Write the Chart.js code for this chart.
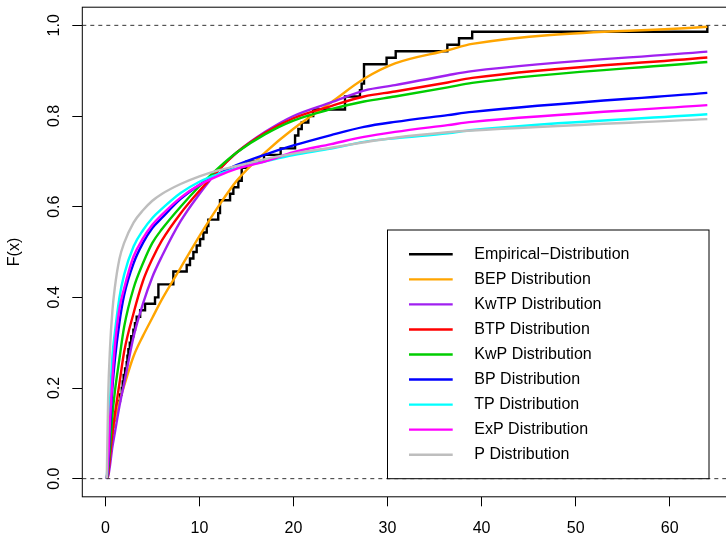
<!DOCTYPE html>
<html>
<head>
<meta charset="utf-8">
<script src="https://cdn.jsdelivr.net/npm/chart.js@4.4.1/dist/chart.umd.min.js"></script>
<style>
  html, body { margin: 0; padding: 0; background: #fff; overflow: hidden; }
  #wrap { width: 740px; height: 536px; }
</style>
</head>
<body>
<div id="wrap"><canvas id="cdf" width="740" height="536"></canvas></div>
<script>
'use strict';

// empirical steps: jump locations and cumulative count after each jump (n = 70)
const N_OBS = 70;
const ecdfX = [0.15, 0.2, 0.28, 0.35, 0.45, 0.55, 0.65, 0.75, 0.85, 1.03, 1.2, 1.39, 1.56, 1.75, 1.85, 1.95,
  2.1, 2.27, 2.35, 2.45, 2.6, 2.75, 2.98, 3.15, 3.33, 3.7, 4.22, 5.28, 5.64, 7.23, 8.65, 9.0, 9.36, 9.71,
  10.07, 10.42, 10.78, 10.95, 12.0, 12.19, 13.26, 13.61, 14.14, 14.5, 15.03, 16.87, 18.64, 20.17, 20.52,
  20.88, 21.58, 22.1, 25.48, 27.07, 27.25, 27.5, 29.9, 30.87, 36.36, 37.6, 39.0, 64.0];
const ecdfCount = [1, 2, 3, 4, 5, 6, 7, 8, 9, 10, 11, 12, 13, 14, 15, 16,
  17, 18, 19, 20, 21, 22, 23, 24, 25, 26, 27, 28, 30, 32, 33, 34, 35, 36,
  37, 38, 39, 40, 41, 43, 44, 45, 46, 48, 49, 50, 51, 53, 54,
  55, 56, 57, 59, 60, 61, 64, 65, 66, 67, 68, 69, 70];

// fitted cdf curves, read at these x positions
const curveX = [0.15, 0.3, 0.5, 0.75, 1, 1.5, 2, 3, 4, 5, 6, 8, 10, 12, 14, 17, 20, 24, 27.5, 30.8, 36.4, 39, 64];
const bepY  = [0, 0.03, 0.07, 0.1, 0.13, 0.17, 0.205, 0.27, 0.315, 0.355, 0.395, 0.465, 0.535, 0.6, 0.658, 0.72, 0.772, 0.83, 0.882, 0.916, 0.945, 0.959, 0.997];
const kwtpY = [0, 0.005, 0.03, 0.07, 0.1, 0.16, 0.21, 0.313, 0.386, 0.445, 0.49, 0.568, 0.628, 0.68, 0.72, 0.765, 0.8, 0.83, 0.856, 0.868, 0.89, 0.899, 0.942];
const btpY  = [0, 0.01, 0.05, 0.1, 0.14, 0.21, 0.28, 0.365, 0.436, 0.485, 0.525, 0.585, 0.635, 0.68, 0.72, 0.763, 0.795, 0.822, 0.843, 0.854, 0.874, 0.884, 0.929];
const kwpY  = [0, 0.02, 0.07, 0.14, 0.19, 0.265, 0.335, 0.42, 0.475, 0.52, 0.55, 0.6, 0.645, 0.685, 0.72, 0.76, 0.79, 0.815, 0.832, 0.843, 0.863, 0.873, 0.919];
const bpY   = [0, 0.03, 0.11, 0.2, 0.26, 0.345, 0.405, 0.475, 0.52, 0.553, 0.575, 0.617, 0.648, 0.672, 0.692, 0.715, 0.735, 0.758, 0.776, 0.787, 0.802, 0.809, 0.851];
const tpY   = [0, 0.06, 0.17, 0.27, 0.32, 0.4, 0.45, 0.512, 0.548, 0.575, 0.595, 0.63, 0.655, 0.672, 0.685, 0.7, 0.714, 0.728, 0.743, 0.751, 0.762, 0.769, 0.804];
const expY  = [0, 0.04, 0.13, 0.22, 0.29, 0.375, 0.42, 0.49, 0.53, 0.56, 0.582, 0.62, 0.648, 0.668, 0.684, 0.7, 0.72, 0.738, 0.754, 0.765, 0.78, 0.787, 0.824];
const pY    = [0, 0.18, 0.29, 0.37, 0.42, 0.485, 0.52, 0.565, 0.592, 0.613, 0.628, 0.65, 0.667, 0.68, 0.69, 0.705, 0.717, 0.73, 0.742, 0.752, 0.764, 0.768, 0.793];

const seriesNames = ['Empirical\u2212Distribution', 'BEP Distribution', 'KwTP Distribution', 'BTP Distribution',
  'KwP Distribution', 'BP Distribution', 'TP Distribution', 'ExP Distribution', 'P Distribution'];
const seriesColors = ['#000000', '#FFA500', '#A020F0', '#FF0000', '#00CD00', '#0000FF', '#00FFFF', '#FF00FF', '#BEBEBE'];

const xTickVals = [0, 10, 20, 30, 40, 50, 60];
const yTickVals = [0, 0.2, 0.4, 0.6, 0.8, 1.0];
const refLevels = [0, 1];
const X_MIN = -2.45, X_MAX = 66.56;

const FONT = '"Liberation Sans", Arial, Helvetica, sans-serif';
const LW = 2.4;

function pts(xs, ys) {
  return xs.map((x, i) => ({ x: x, y: ys[i] }));
}

const curves = [bepY, kwtpY, btpY, kwpY, bpY, tpY, expY, pY];

const datasets = [];
datasets.push({
  label: seriesNames[0],
  data: ecdfX.map((x, i) => ({ x: x, y: ecdfCount[i] / N_OBS })),
  borderColor: seriesColors[0],
  borderWidth: LW,
  stepped: true,
  pointRadius: 0,
  order: 20,
  inLegend: true
});
curves.forEach((ys, i) => {
  datasets.push({
    label: seriesNames[i + 1],
    data: pts(curveX, ys),
    borderColor: seriesColors[i + 1],
    borderWidth: LW,
    cubicInterpolationMode: 'monotone',
    pointRadius: 0,
    order: 19 - i,
    inLegend: true
  });
});
refLevels.forEach((lv) => {
  datasets.push({
    label: 'ref' + lv,
    data: [{ x: X_MIN, y: lv }, { x: X_MAX, y: lv }],
    borderColor: '#333',
    borderWidth: 1,
    borderDash: [4, 4],
    pointRadius: 0,
    order: 1,
    inLegend: false
  });
});

// box, rotated y tick labels and the legend, drawn R style
const rFrame = {
  id: 'rFrame',
  afterDraw(chart) {
    const { ctx, chartArea: a, scales: { y } } = chart;
    ctx.save();
    ctx.strokeStyle = '#000';
    ctx.lineWidth = 1;
    ctx.strokeRect(a.left, a.top, a.right - a.left, a.bottom - a.top);

    ctx.fillStyle = '#000';
    ctx.font = '16px ' + FONT;
    ctx.textAlign = 'center';
    ctx.textBaseline = 'middle';
    y.ticks.forEach((t) => {
      ctx.save();
      ctx.translate(54.5, y.getPixelForValue(t.value));
      ctx.rotate(-Math.PI / 2);
      ctx.fillText(t.value.toFixed(1), 0, 0);
      ctx.restore();
    });

    // legend
    const lx = 387.5, ly = 230, lw = 321.5, lh = 248.7;
    ctx.fillStyle = '#fff';
    ctx.fillRect(lx, ly, lw, lh);
    ctx.strokeStyle = '#000';
    ctx.strokeRect(lx, ly, lw, lh);
    const items = chart.data.datasets.filter((d) => d.inLegend);
    ctx.textAlign = 'left';
    items.forEach((d, i) => {
      const ry = 254.3 + i * 25.05;
      ctx.strokeStyle = d.borderColor;
      ctx.lineWidth = LW;
      ctx.beginPath();
      ctx.moveTo(409, ry);
      ctx.lineTo(452.7, ry);
      ctx.stroke();
      ctx.fillStyle = '#000';
      ctx.fillText(d.label, 474.3, ry);
    });
    ctx.restore();
  }
};

new Chart(document.getElementById('cdf'), {
  type: 'line',
  data: { datasets: datasets },
  options: {
    responsive: false,
    animation: false,
    devicePixelRatio: 1,
    layout: { padding: { top: 7.2, right: 8.6, left: 0, bottom: 0 } },
    plugins: { legend: { display: false }, tooltip: { enabled: false } },
    scales: {
      x: {
        type: 'linear',
        min: X_MIN,
        max: X_MAX,
        afterBuildTicks: (s) => { s.ticks = xTickVals.map((v) => ({ value: v })); },
        afterFit: (s) => { s.height = 39.2; },
        border: { display: false },
        grid: { drawOnChartArea: false, drawTicks: true, tickLength: 9.5, color: '#000', lineWidth: 1 },
        ticks: { color: '#000', padding: 13, maxRotation: 0, font: { size: 16, family: FONT } }
      },
      y: {
        type: 'linear',
        min: -0.04,
        max: 1.04,
        afterBuildTicks: (s) => { s.ticks = yTickVals.map((v) => ({ value: v })); },
        afterFit: (s) => { s.width = 82.3; },
        border: { display: false },
        grid: { drawOnChartArea: false, drawTicks: true, tickLength: 10, color: '#000', lineWidth: 1 },
        ticks: { display: false },
        title: { display: true, text: 'F(x)', color: '#000', padding: { top: 5 }, font: { size: 16, family: FONT } }
      }
    }
  },
  plugins: [rFrame]
});
</script>
</body>
</html>
